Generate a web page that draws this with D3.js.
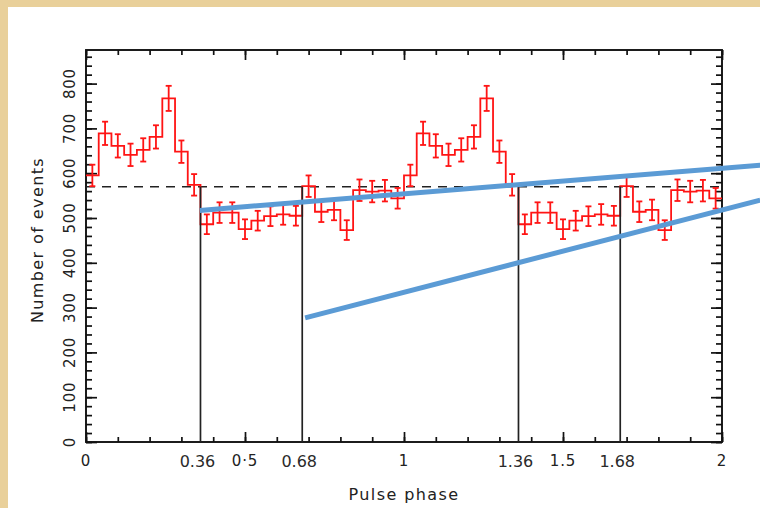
<!DOCTYPE html>
<html>
<head>
<meta charset="utf-8">
<script src="https://cdn.jsdelivr.net/npm/d3@7"></script>
<style>
    html, body { margin: 0; padding: 0; background: #e9d09a; }
    svg { display: block; }
    .tick-label { font-family: "DejaVu Sans", sans-serif; font-size: 15px; fill: #222; letter-spacing: 0.8px; }
    .marker-label { font-family: "DejaVu Sans", sans-serif; font-size: 16px; fill: #2a2a2a; }
    .axis-title { font-family: "DejaVu Sans", sans-serif; font-size: 16px; fill: #222; letter-spacing: 1.4px; }
</style>
</head>
<body>
<div id="chart"></div>
<script>
"use strict";

// pulse profile, 50 bins of 0.04 in phase (two cycles)
const binCounts = [
    595, 689, 661, 641, 652, 681, 767, 648, 574, 486,
    512, 512, 475, 494, 504, 508, 505, 571, 514, 518,
    473, 562, 559, 561, 544,
    595, 689, 661, 641, 652, 681, 767, 648, 574, 486,
    512, 512, 475, 494, 504, 508, 505, 571, 514, 518,
    473, 562, 559, 561, 544
];
const binErrors = [
    24, 26, 26, 25, 26, 26, 28, 25, 24, 22,
    23, 23, 22, 22, 22, 23, 22, 24, 23, 23,
    22, 24, 24, 24, 23,
    24, 26, 26, 25, 26, 26, 28, 25, 24, 22,
    23, 23, 22, 22, 22, 23, 22, 24, 23, 23,
    22, 24, 24, 24, 23
];
const binWidth = 0.04;

const meanLevel = 570;
const markerPhases = [0.36, 0.68, 1.36, 1.68];
const markerLabels = ["0.36", "0.68", "1.36", "1.68"];

const xMajorTicks = [0, 0.5, 1, 1.5, 2];
const xTickLabels = ["0", "0\u00b75", "1", "1.5", "2"];
const yMajorTicks = [0, 100, 200, 300, 400, 500, 600, 700, 800];

// hand-drawn annotation lines: [phase, counts] endpoints
const trendLines = [
    [[0.358, 517], [2.12, 618]],
    [[0.689, 277], [2.12, 540]]
];

const W = 760, H = 508;
const plot = {left: 86, right: 722, top: 50, bottom: 442};

const svg = d3.select("#chart")
    .append("svg")
    .attr("width", W)
    .attr("height", H);

// white panel over the parchment background
svg.append("rect")
    .attr("x", 8).attr("y", 7)
    .attr("width", W - 8).attr("height", H - 7)
    .attr("fill", "#ffffff");

const x = d3.scaleLinear().domain([0, 2]).range([plot.left, plot.right]);
const y = d3.scaleLinear().domain([0, 875]).range([plot.bottom, plot.top]);

// ticks (inward on all four sides)
function addTicks(axisFn, translate, scale, values, size) {
    svg.append("g")
        .attr("transform", translate)
        .call(axisFn(scale).tickValues(values).tickSize(size).tickFormat(""))
        .call(g => g.select(".domain").remove())
        .call(g => g.selectAll("line").attr("stroke", "#111").attr("stroke-width", 1.7));
}
const xMinor = x.ticks(20), yMinor = d3.range(0, 875, 20);
addTicks(d3.axisBottom, `translate(0,${plot.bottom})`, x, xMinor, -5);
addTicks(d3.axisBottom, `translate(0,${plot.bottom})`, x, xMajorTicks, -10);
addTicks(d3.axisTop, `translate(0,${plot.top})`, x, xMinor, -5);
addTicks(d3.axisTop, `translate(0,${plot.top})`, x, xMajorTicks, -10);
addTicks(d3.axisLeft, `translate(${plot.left},0)`, y, yMinor, -6);
addTicks(d3.axisLeft, `translate(${plot.left},0)`, y, yMajorTicks, -11);
addTicks(d3.axisRight, `translate(${plot.right},0)`, y, yMinor, -6);
addTicks(d3.axisRight, `translate(${plot.right},0)`, y, yMajorTicks, -11);

// frame
svg.append("rect")
    .attr("x", plot.left).attr("y", plot.top)
    .attr("width", plot.right - plot.left).attr("height", plot.bottom - plot.top)
    .attr("fill", "none").attr("stroke", "#111").attr("stroke-width", 1.9);

// tick labels
svg.append("g").selectAll("text")
    .data(xMajorTicks)
    .join("text")
    .attr("class", "tick-label")
    .attr("x", d => x(d))
    .attr("y", plot.bottom + 24)
    .attr("text-anchor", "middle")
    .text((d, i) => xTickLabels[i]);

svg.append("g").selectAll("text")
    .data(yMajorTicks)
    .join("text")
    .attr("class", "tick-label")
    .attr("text-anchor", "middle")
    .attr("transform", d => `translate(${plot.left - 11},${y(d)}) rotate(-90)`)
    .text(d => d);

svg.append("g").selectAll("text")
    .data(markerPhases)
    .join("text")
    .attr("class", "marker-label")
    .attr("x", d => x(d) - 3)
    .attr("y", plot.bottom + 25)
    .attr("text-anchor", "middle")
    .text((d, i) => markerLabels[i]);

// axis titles
svg.append("text")
    .attr("class", "axis-title")
    .attr("text-anchor", "middle")
    .attr("x", (plot.left + plot.right) / 2)
    .attr("y", plot.bottom + 58)
    .text("Pulse phase");

svg.append("text")
    .attr("class", "axis-title")
    .attr("text-anchor", "middle")
    .attr("transform", `translate(43,${(plot.top + plot.bottom) / 2 - 6}) rotate(-90)`)
    .text("Number of events");

// mean level
svg.append("line")
    .attr("x1", x(0)).attr("x2", x(2))
    .attr("y1", y(meanLevel)).attr("y2", y(meanLevel))
    .attr("stroke", "#222").attr("stroke-width", 1.5)
    .attr("stroke-dasharray", "9,7");

// histogram steps
const stepPoints = binCounts.map((c, i) => [i * binWidth, c]);
stepPoints.push([binCounts.length * binWidth, binCounts[binCounts.length - 1]]);
svg.append("path")
    .datum(stepPoints)
    .attr("fill", "none")
    .attr("stroke", "#ff1414")
    .attr("stroke-width", 1.8)
    .attr("d", d3.line().x(d => x(d[0])).y(d => y(d[1])).curve(d3.curveStepAfter));

// error bars
const errG = svg.append("g")
    .attr("stroke", "#ff1414")
    .attr("stroke-width", 1.8);
binCounts.forEach((c, i) => {
    const cx = x((i + 0.5) * binWidth);
    const e = binErrors[i];
    errG.append("line").attr("x1", cx).attr("x2", cx).attr("y1", y(c - e)).attr("y2", y(c + e));
    errG.append("line").attr("x1", cx - 3).attr("x2", cx + 3).attr("y1", y(c - e)).attr("y2", y(c - e));
    errG.append("line").attr("x1", cx - 3).attr("x2", cx + 3).attr("y1", y(c + e)).attr("y2", y(c + e));
});

// phase markers
svg.append("g").selectAll("line")
    .data(markerPhases)
    .join("line")
    .attr("x1", d => x(d)).attr("x2", d => x(d))
    .attr("y1", y(0)).attr("y2", y(meanLevel))
    .attr("stroke", "#222").attr("stroke-width", 1.7);

// blue annotation lines
svg.append("g").selectAll("line")
    .data(trendLines)
    .join("line")
    .attr("x1", d => x(d[0][0])).attr("y1", d => y(d[0][1]))
    .attr("x2", d => x(d[1][0])).attr("y2", d => y(d[1][1]))
    .attr("stroke", "#5b9bd5")
    .attr("stroke-width", 5);
</script>
</body>
</html>
